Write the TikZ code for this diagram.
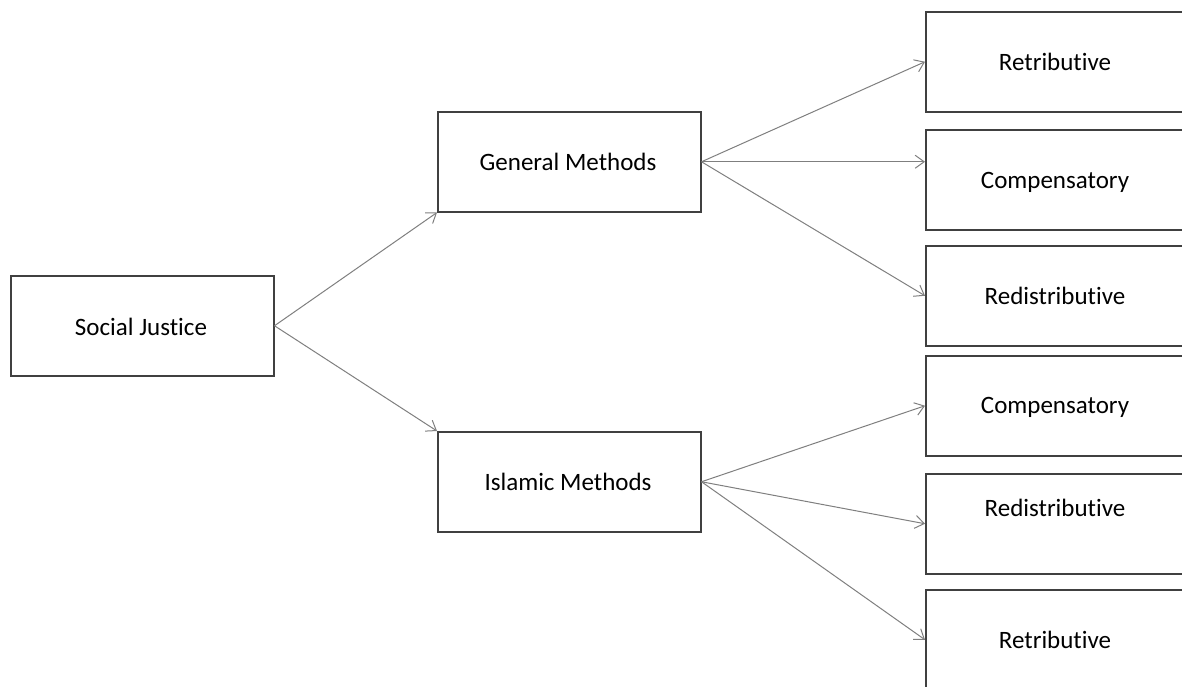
\documentclass[tikz,border=0pt]{standalone}
\usepackage{fontspec}
\setmainfont[Ligatures={NoCommon}]{Carlito}
\usetikzlibrary{arrows.meta}
\begin{document}
\begin{tikzpicture}[x=1pt,y=-1pt,
  box/.style={draw=boxgray,line width=1.5pt,rectangle,inner sep=0pt,anchor=north west,minimum height=100pt},
  lbl/.style={font=\fontsize{25}{30}\selectfont,text=black,inner sep=0pt},
  conn/.style={draw=arrgray,line width=1pt,-{Straight Barb[length=9pt,width=13pt]}}]
\definecolor{boxgray}{HTML}{404040}
\definecolor{arrgray}{HTML}{7F7F7F}
\useasboundingbox (0,0) rectangle (1182,686);
\clip (0,0) rectangle (1182,686);
\node[box,minimum width=263pt] (sj) at (10,275) {};
\node[box,minimum width=263pt] (gm) at (437,111) {};
\node[box,minimum width=263pt] (im) at (437,431) {};
\node[box,minimum width=262pt] (r1) at (925,11) {};
\node[box,minimum width=262pt] (r2) at (925,129) {};
\node[box,minimum width=262pt] (r3) at (925,245) {};
\node[box,minimum width=262pt] (r4) at (925,355) {};
\node[box,minimum width=262pt] (r5) at (925,473) {};
\node[box,minimum width=262pt] (r6) at (925,589) {};
\node[lbl] (tsj) at (141,327) {Social Justice};
\node[lbl] (tgm) at (568,162) {General Methods};
\node[lbl] (tim) at (568,482) {Islamic Methods};
\node[lbl] (t1) at (1055,62) {Retributive};
\node[lbl] (t2) at (1055,182) {Compensatory};
\node[lbl] (t3) at (1055,296) {Redistributive};
\node[lbl] (t4) at (1055,407) {Compensatory};
\node[lbl] (t5) at (1055,508) {Redistributive};
\node[lbl] (t6) at (1055,640) {Retributive};
\draw[conn] (sj.east) -- (gm.south west);
\draw[conn] (sj.east) -- (im.north west);
\draw[conn] (gm.east) -- (r1.west);
\draw[conn] (gm.east) -- (gm.east -| r2.west);
\draw[conn] (gm.east) -- (r3.west);
\draw[conn] (im.east) -- (r4.west);
\draw[conn] (im.east) -- (r5.west);
\draw[conn] (im.east) -- (r6.west);
\end{tikzpicture}
\end{document}
